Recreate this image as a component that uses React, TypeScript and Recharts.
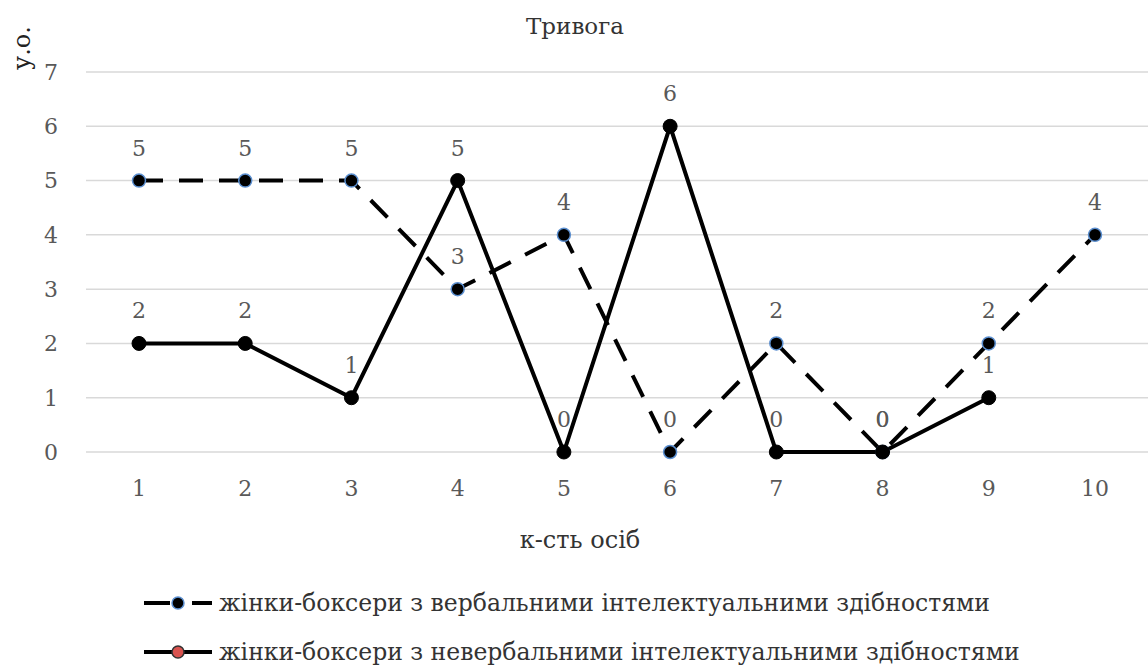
import { CartesianGrid, LabelList, Line, LineChart, XAxis, YAxis } from "recharts";

const categories = ["1", "2", "3", "4", "5", "6", "7", "8", "9", "10"];
const verbal = [5, 5, 5, 3, 4, 0, 2, 0, 2, 4];
const nonverbal = [2, 2, 1, 5, 0, 6, 0, 0, 1, null];
const yTicks = [0, 1, 2, 3, 4, 5, 6, 7];

const title = "Тривога";
const yTitle = "у.о.";
const xTitle = "к-сть осіб";
const verbalName = "жінки-боксери з вербальними інтелектуальними здібностями";
const nonverbalName = "жінки-боксери з невербальними інтелектуальними здібностями";

const data = categories.map((name, i) => ({
  name,
  verbal: verbal[i],
  nonverbal: nonverbal[i],
}));

const FONT = "'DejaVu Serif', serif";
const GREY = "#595959";

export default function App() {
  return (
    <div
      style={{
        position: "absolute",
        left: 0,
        top: 0,
        width: 1148,
        height: 667,
        background: "#fff",
        fontFamily: FONT,
      }}
    >
      <LineChart
        width={1148}
        height={667}
        data={data}
        margin={{ top: 72, right: 0, bottom: 185, left: 30 }}
      >
        <CartesianGrid vertical={false} stroke="#d9d9d9" strokeWidth={1.5} />
        <XAxis
          dataKey="name"
          height={30}
          padding={{ left: 53, right: 53 }}
          axisLine={false}
          tickLine={false}
          tickSize={0}
          tickMargin={28}
          tick={{ fill: GREY, fontSize: 22, fontFamily: FONT }}
        />
        <YAxis
          width={56}
          domain={[0, 7]}
          ticks={yTicks}
          axisLine={false}
          tickLine={false}
          tickSize={0}
          tickMargin={28}
          tick={{ fill: GREY, fontSize: 22, fontFamily: FONT }}
        />
        <Line
          dataKey="verbal"
          stroke="#000"
          strokeWidth={4}
          strokeDasharray="24 16"
          isAnimationActive={false}
          dot={{ r: 6.5, fill: "#000", stroke: "#5b8fd0", strokeWidth: 1.5, strokeDasharray: "none" }}
        >
          <LabelList dataKey="verbal" position="top" offset={25} fill={GREY} fontSize={22} fontFamily={FONT} />
        </Line>
        <Line
          dataKey="nonverbal"
          stroke="#000"
          strokeWidth={4}
          isAnimationActive={false}
          dot={{ r: 7, fill: "#000", stroke: "#000", strokeWidth: 1 }}
        >
          <LabelList dataKey="nonverbal" position="top" offset={25} fill={GREY} fontSize={22} fontFamily={FONT} />
        </Line>
      </LineChart>

      <div
        style={{
          position: "absolute",
          left: 575,
          top: 26,
          transform: "translate(-50%, -50%)",
          fontSize: 23,
          color: "#333",
          whiteSpace: "nowrap",
        }}
      >
        {title}
      </div>
      <div
        style={{
          position: "absolute",
          left: 22,
          top: 48,
          transform: "translate(-50%, -50%) rotate(-90deg)",
          fontSize: 24,
          color: "#222",
          whiteSpace: "nowrap",
        }}
      >
        {yTitle}
      </div>
      <div
        style={{
          position: "absolute",
          left: 580,
          top: 540,
          transform: "translate(-50%, -50%)",
          fontSize: 24,
          color: "#333",
          whiteSpace: "nowrap",
        }}
      >
        {xTitle}
      </div>

      {[
        { name: verbalName, dashed: true, fill: "#000", ring: "#5b8fd0", y: 603 },
        { name: nonverbalName, dashed: false, fill: "#d9534f", ring: "#333", y: 652 },
      ].map((item) => (
        <div
          key={item.name}
          style={{
            position: "absolute",
            left: 142,
            top: item.y,
            transform: "translateY(-50%)",
            display: "flex",
            alignItems: "center",
            whiteSpace: "nowrap",
          }}
        >
          <svg width={74} height={20}>
            {item.dashed ? (
              <>
                <line x1={2} y1={10} x2={28} y2={10} stroke="#000" strokeWidth={4} />
                <line x1={50} y1={10} x2={70} y2={10} stroke="#000" strokeWidth={4} />
              </>
            ) : (
              <line x1={2} y1={10} x2={70} y2={10} stroke="#000" strokeWidth={4} />
            )}
            <circle cx={36} cy={10} r={6} fill={item.fill} stroke={item.ring} strokeWidth={1.5} />
          </svg>
          <span style={{ fontSize: 23.5, color: "#333", marginLeft: 3 }}>{item.name}</span>
        </div>
      ))}
    </div>
  );
}
